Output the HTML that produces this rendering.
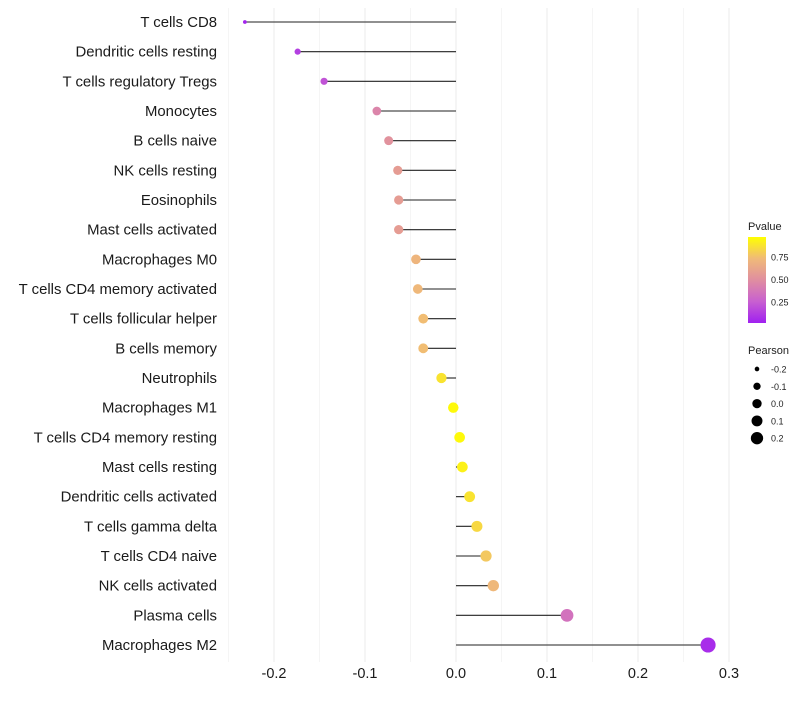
<!DOCTYPE html>
<html><head><meta charset="utf-8"><style>
body{margin:0;background:#fff;font-family:"Liberation Sans",sans-serif}
</style></head><body>
<svg id="chart" width="800" height="700" xmlns="http://www.w3.org/2000/svg">
<defs><linearGradient id="pg" x1="0" y1="1" x2="0" y2="0">
<stop offset="0" stop-color="#A020F0"/><stop offset="0.25" stop-color="#C860D0"/><stop offset="0.5" stop-color="#E08EA0"/><stop offset="0.75" stop-color="#F0BA78"/><stop offset="1" stop-color="#FFFF00"/>
</linearGradient></defs>
<g id="grid"></g><g id="marks"></g><g id="labels"></g>
</svg>
<script>
const categories=["T cells CD8","Dendritic cells resting","T cells regulatory  Tregs ","Monocytes","B cells naive","NK cells resting","Eosinophils","Mast cells activated","Macrophages M0","T cells CD4 memory activated","T cells follicular helper","B cells memory","Neutrophils","Macrophages M1","T cells CD4 memory resting","Mast cells resting","Dendritic cells activated","T cells gamma delta","T cells CD4 naive","NK cells activated","Plasma cells","Macrophages M2"];
const pearson=[-0.232,-0.174,-0.145,-0.087,-0.074,-0.064,-0.063,-0.063,-0.044,-0.042,-0.036,-0.036,-0.016,-0.003,0.004,0.007,0.015,0.023,0.033,0.041,0.122,0.277];
const pvalue=[0.02,0.12,0.2,0.45,0.52,0.58,0.58,0.58,0.72,0.74,0.76,0.76,0.9,0.98,0.98,0.95,0.9,0.86,0.8,0.74,0.35,0.05];
const xTicks=[-0.2,-0.1,0,0.1,0.2,0.3];
const xTickLabels=["-0.2","-0.1","0.0","0.1","0.2","0.3"];
const sizeLegend=[-0.2,-0.1,0,0.1,0.2];
const NS="http://www.w3.org/2000/svg";
const X=v=>456+v*910;
const Y=i=>22+i*(623/21);
const R=v=>Math.sqrt(3.5+105*Math.max(0,v+0.233));
const stops=[[0,[160,32,240]],[0.25,[200,96,208]],[0.5,[224,142,160]],[0.75,[240,186,120]],[1,[255,255,0]]];
function col(p){
 let k=0; while(k<stops.length-2 && p>stops[k+1][0]) k++;
 const a=stops[k],b=stops[k+1];
 const t=(p-a[0])/(b[0]-a[0]);
 const c=a[1].map((v,j)=>Math.round(v+(b[1][j]-v)*t));
 return `rgb(${c[0]},${c[1]},${c[2]})`;
}
function mk(tag,attrs,parent,text){const e=document.createElementNS(NS,tag);for(const k in attrs)e.setAttribute(k,attrs[k]);if(text!==undefined)e.textContent=text;parent.appendChild(e);return e;}
const grid=document.getElementById('grid'),marks=document.getElementById('marks'),labels=document.getElementById('labels');
for(let v=-0.25;v<=0.301;v+=0.05){
 const g=mk('line',{x1:X(v),x2:X(v),y1:8,y2:662,stroke:'#ebebeb','stroke-width':Math.abs(Math.round(v*100)%10)<1?1:0.5},grid);
 
 
}
xTicks.forEach((v,i)=>{
 const t=mk('text',{x:X(v),y:678,'text-anchor':'middle','font-size':14.5,fill:'#1a1a1a'},labels,xTickLabels[i]);
 
 
});
categories.forEach((c,i)=>{
 const t=mk('text',{x:217,y:Y(i)+5,'text-anchor':'end','font-size':14.9,fill:'#1a1a1a'},labels,c);
 
 
 const l=mk('line',{x1:X(0),x2:X(pearson[i]),y1:Y(i),y2:Y(i),stroke:'#222','stroke-width':1.1},marks);
 
 
 const d=mk('circle',{cx:X(pearson[i]),cy:Y(i),r:R(pearson[i]),fill:col(pvalue[i])},marks);
 
 
});
const lt=mk('text',{x:748,y:230,'font-size':11,fill:'#222'},labels,'Pvalue');


const cb=mk('rect',{x:748,y:237,width:18,height:86,fill:'url(#pg)'},labels);


[[0.75,257],[0.5,279.5],[0.25,302]].forEach(([v,y])=>{
 const t=mk('text',{x:771,y:y+3.5,'font-size':9,fill:'#222'},labels,v.toFixed(2));
 
 
});
const pt=mk('text',{x:748,y:354,'font-size':11,fill:'#222'},labels,'Pearson');


sizeLegend.forEach((v,i)=>{
 const y=369+i*17.3;
 const c=mk('circle',{cx:757,cy:y,r:R(v)*0.88,fill:'#000'},labels);
 
 
 const t=mk('text',{x:771,y:y+3.5,'font-size':9,fill:'#222'},labels,v.toFixed(1));
 
 
});
</script>
</body></html>
